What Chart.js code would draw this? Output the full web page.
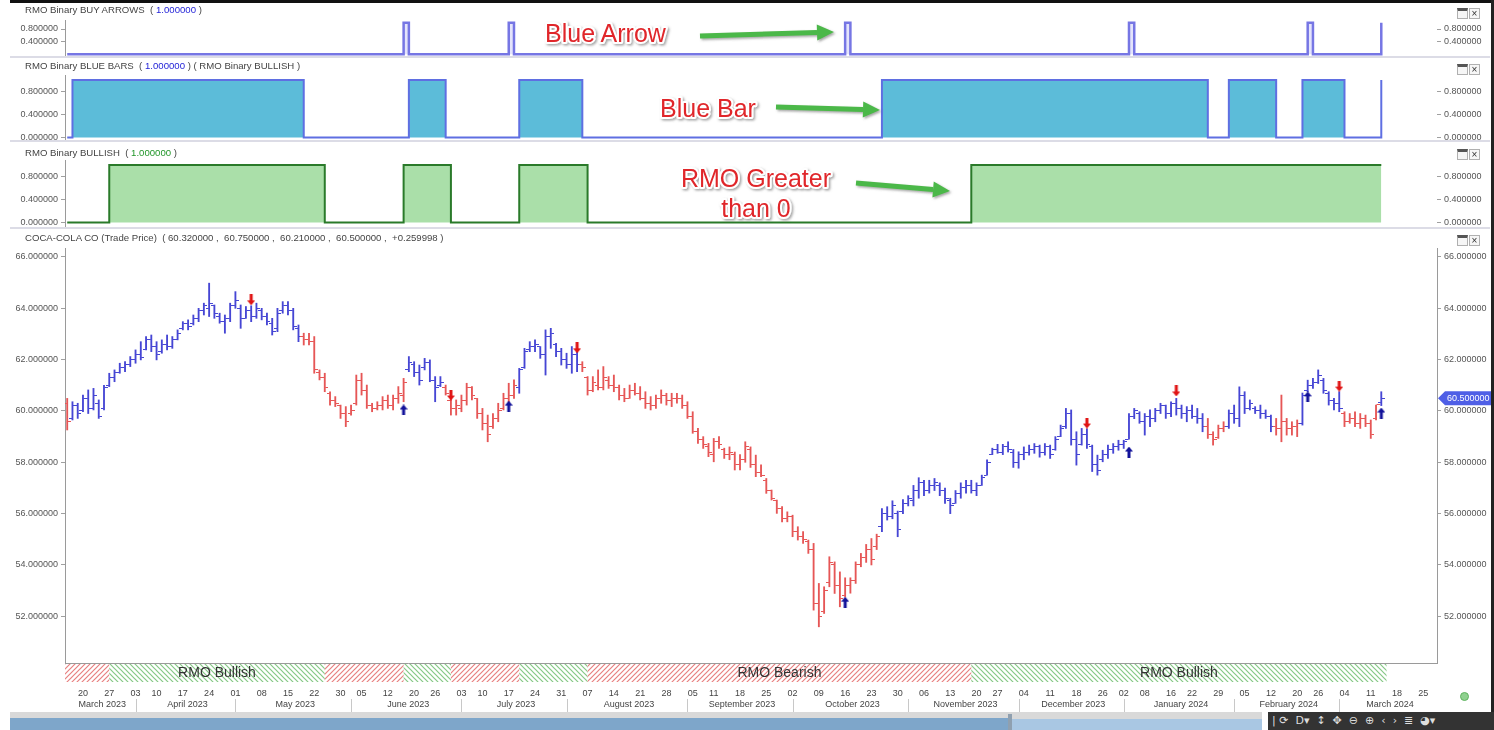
<!DOCTYPE html>
<html>
<head>
<meta charset="utf-8">
<script src="https://cdn.jsdelivr.net/npm/chart.js@4.4.1/dist/chart.umd.min.js"></script>
<style>
  body { margin:0; width:1494px; height:730px; overflow:hidden; background:#fff; position:relative;
         font-family:"Liberation Sans", Arial, sans-serif; }
  canvas { position:absolute; left:0; }
  .ttl { position:absolute; left:25px; font-size:9.6px; line-height:11px; color:#444; white-space:pre; }
  .ttl .b { color:#2424d8; }
  .ttl .g { color:#22962a; }
  .sep { position:absolute; left:10px; width:1480px; height:2px; background:#dcdce6; }
  .ico { position:absolute; left:1457px; height:11px; width:28px; }
  .ico span { display:inline-block; box-sizing:border-box; width:11px; height:11px; border:1px solid #b0b0b0;
              margin-right:1px; vertical-align:top; font-size:10px; line-height:9px; text-align:center; color:#333; background:#f6f6f6; }
  .ico .w { border-top:3px solid #555; }
  #nav { position:absolute; left:10px; top:712px; width:1252px; height:18px; background:#d9d9d9; overflow:hidden; }
  #nav .a { position:absolute; left:0; top:6px; width:1002px; height:12px; background:#7ea6ca; }
  #nav .s { position:absolute; left:1002px; top:7px; width:250px; height:11px; background:#a9c7e3; }
  #nav .h { position:absolute; left:998px; top:2px; width:4px; height:16px; background:#8fa0b0; }
  #tb { position:absolute; left:1268px; top:712px; width:226px; height:18px; background:#333; color:#ddd;
        font-family:"DejaVu Sans", sans-serif; font-size:11px; line-height:18px; white-space:pre; padding-left:4px; box-sizing:border-box; }
  #smile { position:absolute; left:1460px; top:692px; width:9px; height:9px; border-radius:50%; background:#8fd18f; border:1px solid #5fb35f; box-sizing:border-box; }
  #frameTop { position:absolute; left:10px; top:0; width:1484px; height:3px; background:#111; }
  #frameRight { position:absolute; left:1491px; top:0; width:3px; height:712px; background:#222; }
</style>
</head>
<body>
<canvas id="buyPanel" width="1494" height="58" style="top:0"></canvas>
<canvas id="bluePanel" width="1494" height="84" style="top:58px"></canvas>
<canvas id="bullPanel" width="1494" height="87" style="top:142px"></canvas>
<canvas id="price" width="1494" height="483" style="top:229px"></canvas>

<div id="frameTop"></div>
<div id="frameRight"></div>
<div class="sep" style="top:56px"></div>
<div class="sep" style="top:140px"></div>
<div class="sep" style="top:227px"></div>

<div class="ttl" style="top:4px">RMO Binary BUY ARROWS  ( <span class="b">1.000000</span> )</div>
<div class="ttl" style="top:60px">RMO Binary BLUE BARS  ( <span class="b">1.000000</span> ) ( RMO Binary BULLISH )</div>
<div class="ttl" style="top:147px">RMO Binary BULLISH  ( <span class="g">1.000000</span> )</div>
<div class="ttl" style="top:232px">COCA-COLA CO (Trade Price)  ( 60.320000 ,  60.750000 ,  60.210000 ,  60.500000 ,  +0.259998 )</div>

<div class="ico" style="top:8px"><span class="w"></span><span>×</span></div>
<div class="ico" style="top:64px"><span class="w"></span><span>×</span></div>
<div class="ico" style="top:149px"><span class="w"></span><span>×</span></div>
<div class="ico" style="top:235px"><span class="w"></span><span>×</span></div>

<div id="nav"><div class="a"></div><div class="s"></div><div class="h"></div></div>
<div id="tb">| ⟳  D▾  ↕  ✥  ⊖  ⊕  ‹  ›  ≣  ◕▾</div>
<div id="smile"></div>

<svg id="notes" width="1494" height="730" style="position:absolute;left:0;top:0">
  <defs>
    <filter id="sh" x="-10%" y="-30%" width="130%" height="170%">
      <feDropShadow dx="1.5" dy="1.5" stdDeviation="1" flood-color="#666" flood-opacity="0.6"/>
    </filter>
  </defs>
  <g font-family="Liberation Sans, Arial, sans-serif" font-size="25" fill="#e0262a" stroke="#ffffff"
     stroke-width="4" paint-order="stroke" stroke-linejoin="round" filter="url(#sh)">
    <text x="545" y="42">Blue Arrow</text>
    <text x="660" y="117">Blue Bar</text>
    <text x="756" y="187" text-anchor="middle">RMO Greater</text>
    <text x="756" y="217" text-anchor="middle">than 0</text>
  </g>
  <g id="greenArrows" filter="url(#sh)"></g>
</svg>

<script>
// trading calendar
const firstDay = '2023-03-15';
const axisEndDay = '2024-03-28';
const holidays = ['2023-04-07','2023-05-29','2023-06-19','2023-07-04','2023-09-04','2023-11-23',
                  '2023-12-25','2024-01-01','2024-01-15','2024-02-19'];
const monthNames = ['January','February','March','April','May','June','July','August',
                    'September','October','November','December'];

// COCA-COLA CO daily bars
const open = [
  60.30,59.70,60.20,60.00,60.50,60.10,60.30,60.10,61.00,61.30,
  61.50,61.70,61.80,62.00,62.20,62.40,62.80,62.50,62.30,62.60,
  62.50,62.80,63.20,63.40,63.40,63.60,63.90,64.00,64.10,63.70,
  63.50,63.60,64.10,64.00,63.60,63.90,63.70,63.90,63.70,63.40,
  63.20,63.90,64.10,63.90,63.20,62.90,62.80,62.70,61.50,61.30,
  60.70,60.40,60.20,59.90,59.90,60.30,61.20,60.80,60.20,60.10,
  60.20,60.40,60.20,60.50,60.60,61.60,61.80,61.50,61.70,61.90,
  61.20,61.00,60.90,60.40,60.10,60.10,60.40,60.90,60.50,59.90,
  59.50,59.40,59.70,60.10,60.50,60.60,60.90,61.70,62.40,62.50,
  62.50,62.20,62.90,62.60,62.30,62.00,61.80,62.20,61.80,61.30,
  60.80,61.00,60.90,61.20,61.00,60.90,60.60,60.50,60.80,60.70,
  60.50,60.30,60.20,60.50,60.60,60.40,60.50,60.50,60.20,59.80,
  59.20,58.90,58.60,58.30,58.80,58.50,58.30,58.30,57.90,58.10,
  58.50,57.90,57.60,57.30,56.90,56.50,56.20,55.80,55.90,55.30,
  55.10,54.90,54.60,52.50,52.20,53.30,54.00,53.20,52.80,53.20,
  53.40,54.00,54.30,54.60,54.70,55.50,56.00,55.90,56.00,56.10,
  56.40,56.50,56.90,57.20,56.90,57.10,57.10,56.90,56.50,56.40,
  56.80,57.00,57.10,56.90,57.10,57.50,58.30,58.50,58.40,58.60,
  58.40,58.00,58.30,58.40,58.50,58.60,58.40,58.60,58.50,59.00,
  59.40,59.90,58.90,58.70,59.10,58.60,57.90,58.10,58.30,58.50,
  58.60,58.70,58.90,59.80,59.90,59.60,59.80,59.70,60.00,60.20,
  59.90,60.30,60.10,59.90,60.00,59.80,59.70,59.40,59.10,58.95,
  59.30,59.40,59.90,59.70,60.60,60.10,60.10,60.00,59.90,59.80,
  59.40,59.30,59.60,59.30,59.40,59.50,60.80,61.00,61.10,61.20,
  60.70,60.40,60.30,59.90,59.60,59.70,59.50,59.70,59.50,59.70,
  60.32];
const high = [
  60.49,60.36,60.30,60.62,60.82,60.88,60.43,61.00,61.47,61.60,
  61.86,61.92,62.12,62.38,62.70,62.90,62.96,62.70,62.77,62.96,
  62.90,63.16,63.48,63.55,63.74,64.00,64.20,64.98,64.13,63.81,
  63.74,64.20,64.65,64.13,64.07,64.10,64.20,64.00,63.81,63.61,
  64.00,64.26,64.26,64.00,63.35,63.03,63.03,62.90,61.60,61.47,
  60.75,60.56,60.23,60.17,60.23,61.40,61.47,61.01,60.30,60.36,
  60.56,60.62,60.62,60.95,61.27,62.12,61.92,61.79,62.05,61.99,
  61.34,61.34,61.01,60.49,60.43,60.62,61.08,60.95,60.49,60.10,
  59.84,59.90,60.30,60.69,61.08,61.21,61.66,62.44,62.70,62.77,
  62.51,63.16,63.22,62.64,62.44,62.25,62.51,62.31,61.92,61.34,
  61.34,61.60,61.73,61.34,61.40,61.01,60.88,61.01,61.08,60.95,
  60.75,60.56,60.62,60.82,60.69,60.69,60.69,60.62,60.36,59.97,
  59.32,59.00,58.74,58.93,59.00,58.55,58.60,58.40,58.30,58.80,
  58.60,58.28,57.90,57.37,56.92,56.53,56.27,56.07,55.94,55.49,
  55.30,54.97,54.84,53.28,53.15,54.32,54.12,53.73,53.50,53.50,
  54.12,54.45,54.80,55.03,55.20,56.20,56.27,56.50,56.10,56.55,
  56.70,57.10,57.40,57.30,57.30,57.37,57.20,57.00,56.60,56.90,
  57.20,57.30,57.30,57.20,57.50,58.10,58.55,58.70,58.70,58.80,
  58.50,58.41,58.60,58.67,58.73,58.67,58.73,58.67,59.00,59.45,
  60.10,60.04,59.19,59.32,59.30,58.67,58.28,58.47,58.67,58.73,
  58.86,58.86,59.90,60.10,59.97,59.90,60.04,60.10,60.30,60.23,
  60.36,60.49,60.23,60.17,60.23,60.10,59.90,59.71,59.19,59.45,
  59.58,60.04,60.23,60.94,60.75,60.43,60.17,60.23,60.04,59.84,
  59.71,60.62,59.71,59.58,59.65,60.70,61.20,61.27,61.60,61.27,
  60.75,60.49,60.75,59.97,59.90,59.97,59.90,59.84,59.65,60.23,
  60.75];
const low = [
  59.26,59.65,59.71,59.97,59.90,60.04,59.71,60.04,60.95,61.14,
  61.47,61.53,61.73,61.86,61.99,62.38,62.31,61.99,62.25,62.38,
  62.44,62.77,63.16,63.16,63.35,63.48,63.74,63.68,63.61,63.42,
  63.03,63.48,64.00,63.22,63.61,63.48,63.61,63.55,63.35,62.96,
  63.09,63.81,63.74,63.16,62.70,62.57,62.57,61.47,61.21,60.75,
  60.23,60.17,59.71,59.39,59.84,60.23,60.62,60.10,59.97,60.04,
  60.04,60.10,60.04,60.30,60.36,61.53,61.34,61.01,61.60,61.14,
  60.36,60.95,60.62,59.84,59.84,59.97,60.23,60.43,59.71,59.26,
  58.80,59.32,59.58,60.04,60.30,60.49,60.69,61.66,62.31,62.31,
  62.05,61.40,62.44,62.12,61.79,61.66,61.47,61.53,61.53,60.62,
  60.75,60.82,60.82,60.88,60.75,60.43,60.36,60.49,60.62,60.43,
  60.10,60.04,60.10,60.30,60.23,60.17,60.30,60.10,59.71,59.13,
  58.74,58.54,58.22,58.02,58.54,58.15,58.10,57.70,57.70,58.00,
  57.80,57.44,57.44,56.79,56.53,56.01,55.68,55.68,55.10,54.97,
  54.84,54.45,52.24,51.59,52.11,53.15,52.89,52.37,52.75,52.90,
  53.28,53.93,54.10,54.00,54.60,55.30,55.75,55.80,55.10,56.00,
  56.30,56.30,56.60,56.70,56.80,56.90,56.70,56.40,56.00,56.40,
  56.60,56.80,56.80,56.70,57.10,57.50,58.30,58.35,58.30,58.40,
  57.80,57.77,58.10,58.28,58.35,58.20,58.28,58.15,58.47,59.00,
  59.32,58.67,57.89,58.67,58.54,57.64,57.50,58.02,58.15,58.35,
  58.47,58.54,58.90,59.70,59.52,59.06,59.39,59.58,59.90,59.71,
  59.78,59.84,59.71,59.58,59.71,59.52,59.19,58.93,58.67,58.93,
  59.19,59.32,59.52,59.39,59.90,60.04,59.90,59.71,59.71,59.19,
  59.06,58.80,59.06,59.06,59.00,59.45,60.75,60.88,61.07,60.69,
  60.23,60.04,59.97,59.39,59.52,59.39,59.32,59.39,58.93,59.65,
  60.21];
const close = [
  59.60,60.20,59.90,60.50,60.10,60.60,59.80,60.90,61.30,61.50,
  61.70,61.80,62.00,62.20,62.10,62.80,62.50,62.20,62.60,62.50,
  62.80,63.00,63.40,63.30,63.60,63.90,64.10,64.20,63.80,63.50,
  63.60,64.10,64.30,63.60,63.90,63.70,64.00,63.70,63.50,63.10,
  63.80,64.10,63.90,63.30,62.90,62.80,62.70,61.60,61.30,60.90,
  60.40,60.30,59.90,59.60,60.00,61.20,60.80,60.20,60.10,60.20,
  60.40,60.20,60.50,60.70,61.10,61.90,61.50,61.20,61.90,61.20,
  60.90,61.10,60.70,60.10,60.20,60.40,60.90,60.60,59.90,59.50,
  59.10,59.70,60.00,60.50,60.60,61.00,61.60,62.30,62.50,62.60,
  62.20,62.90,63.00,62.30,62.00,61.80,62.20,61.80,61.70,60.80,
  61.10,60.90,61.30,61.00,60.90,60.60,60.50,60.80,60.70,60.50,
  60.30,60.20,60.50,60.60,60.40,60.50,60.50,60.20,59.80,59.20,
  58.90,58.70,58.40,58.80,58.70,58.30,58.40,57.90,58.10,58.60,
  57.90,57.60,57.50,56.90,56.60,56.20,55.80,55.90,55.30,55.10,
  55.00,54.60,52.50,52.00,53.00,54.10,53.20,52.70,53.20,53.40,
  54.00,54.30,54.60,54.20,55.10,56.00,55.90,56.30,55.40,56.40,
  56.60,56.90,57.20,56.90,57.10,57.20,56.90,56.60,56.30,56.80,
  57.00,57.10,56.90,57.10,57.40,58.00,58.50,58.40,58.60,58.50,
  58.00,58.30,58.40,58.50,58.60,58.40,58.60,58.30,58.90,59.30,
  59.90,58.90,58.30,59.10,58.70,57.90,57.70,58.30,58.50,58.60,
  58.70,58.80,59.80,60.00,59.60,59.80,59.70,60.00,60.20,59.90,
  60.30,60.10,59.90,60.00,59.80,59.70,59.40,59.10,58.90,59.30,
  59.40,59.90,59.70,60.60,60.10,60.30,60.00,59.90,59.80,59.40,
  59.30,59.60,59.30,59.40,59.50,60.60,61.00,61.10,61.40,60.80,
  60.40,60.30,60.10,59.60,59.70,59.50,59.70,59.50,59.10,60.24,
  60.50];

// RMO binary indicators (bar index runs where the value is 1)
const blueRuns = [[1,44],[65,71],[86,97],[155,216],[221,229],[235,242],[250,250]];
const bullishRuns = [[8,48],[64,72],[86,98],[172,250]];
const buyIdx = [64, 84, 148, 202, 236, 250];
const buyPrice = [60.04, 60.19, 52.55, 58.40, 60.55, 59.92];
const sellIdx = [35, 73, 97, 194, 211, 242];
const sellPrice = [64.33, 60.62, 62.46, 59.53, 60.78, 60.97];

const priceTicks = [52, 54, 56, 58, 60, 62, 64, 66];
const X_MIN = -0.42, X_MAX = 260.6;

const FONT = '"Liberation Sans", Arial, sans-serif';
Chart.defaults.font.family = FONT;
Chart.defaults.plugins.legend.display = false;
Chart.defaults.plugins.tooltip.enabled = false;

const BLUE = '#4646d4', RED = '#e65656';

// calendar -> trading days
const tradingDays = [];
for (let t = Date.parse(firstDay); t <= Date.parse(axisEndDay); t += 864e5) {
  const d = new Date(t), wd = d.getUTCDay(), iso = d.toISOString().slice(0, 10);
  if (wd !== 0 && wd !== 6 && !holidays.includes(iso)) tradingDays.push(iso);
}
const weekNo = s => Math.floor((Date.parse(s) / 864e5 + 3) / 7);
const weekStarts = [];
tradingDays.forEach((d, i) => { if (i > 0 && weekNo(d) !== weekNo(tradingDays[i - 1])) weekStarts.push(i); });
const monthStarts = [];
tradingDays.forEach((d, i) => { if (i === 0 || d.slice(0, 7) !== tradingDays[i - 1].slice(0, 7)) monthStarts.push(i); });

const idx = close.map((_, i) => i);
const fromRuns = runs => idx.map(i => runs.some(([a, b]) => i >= a && i <= b) ? 1 : 0);
const blueBars = fromRuns(blueRuns);
const bullish = fromRuns(bullishRuns);
const buyArrows = idx.map(i => buyIdx.includes(i) ? 1 : 0);

// little marker images
function tickImg(color, side) {
  const c = document.createElement('canvas'); c.width = 7; c.height = 1;
  const g = c.getContext('2d'); g.fillStyle = color;
  g.fillRect(side < 0 ? 0 : 4, 0, 3, 1);
  return c;
}
function arrowImg(color, up) {
  const c = document.createElement('canvas'); c.width = 8; c.height = 11;
  const g = c.getContext('2d'); g.fillStyle = color; g.beginPath();
  if (up) { g.moveTo(4,0); g.lineTo(8,5); g.lineTo(5.5,5); g.lineTo(5.5,11); g.lineTo(2.5,11); g.lineTo(2.5,5); g.lineTo(0,5); }
  else { g.moveTo(4,11); g.lineTo(8,6); g.lineTo(5.5,6); g.lineTo(5.5,0); g.lineTo(2.5,0); g.lineTo(2.5,6); g.lineTo(0,6); }
  g.closePath(); g.fill();
  return c;
}
const openB = tickImg(BLUE, -1), openR = tickImg(RED, -1);
const closeB = tickImg(BLUE, 1), closeR = tickImg(RED, 1);
const buyImg = arrowImg('#12129a', true), sellImg = arrowImg('#e01414', false);

function hatch(color, forward) {
  const c = document.createElement('canvas'); c.width = 5; c.height = 5;
  const g = c.getContext('2d'); g.strokeStyle = color; g.lineWidth = 1.2; g.beginPath();
  if (forward) { g.moveTo(-1,6); g.lineTo(6,-1); g.moveTo(-1,1); g.lineTo(1,-1); g.moveTo(4,6); g.lineTo(6,4); }
  else { g.moveTo(-1,-1); g.lineTo(6,6); g.moveTo(-1,4); g.lineTo(1,6); g.moveTo(4,-1); g.lineTo(6,1); }
  g.stroke();
  return c;
}

function yAxis(pos, min, max, ticks, border, width) {
  return {
    position: pos, min, max,
    afterBuildTicks: s => { s.ticks = ticks.map(v => ({ value: v })); },
    afterFit: s => { s.width = width; s.paddingTop = 0; s.paddingBottom = 0; },
    grid: { drawOnChartArea: false, drawTicks: true, tickLength: 4, color: '#a0a0a0' },
    border: { display: border, color: '#9a9a9a' },
    ticks: { font: { size: 9 }, color: '#555', padding: 3, callback: v => Number(v).toFixed(6) }
  };
}
const hiddenX = { type: 'linear', min: X_MIN, max: X_MAX, display: false };

function panel(id, values, line, fill, lineW, yMin, yMax, ticks, pad) {
  new Chart(document.getElementById(id), {
    type: 'line',
    data: { datasets: [{
      data: values.map((v, i) => ({ x: i, y: v })),
      stepped: true, borderColor: line, borderWidth: lineW,
      backgroundColor: fill, fill: 'origin', pointRadius: 0
    }] },
    options: {
      responsive: false, animation: false, devicePixelRatio: 1,
      layout: { padding: { top: pad[0], bottom: pad[1], left: 0, right: 0 }, autoPadding: false },
      scales: {
        x: hiddenX,
        y: yAxis('left', yMin, yMax, ticks, true, 65),
        y2: yAxis('right', yMin, yMax, ticks, false, 57)
      }
    }
  });
}

panel('buyPanel', buyArrows, '#7676e4', 'rgba(210,210,248,0.6)', 2.5, -0.054, 1.085, [0.4, 0.8], [20, 2]);
panel('bluePanel', blueBars, '#5f6fe2', '#5cbcd9', 2, -0.043, 1.087, [0, 0.4, 0.8], [17, 2]);
panel('bullPanel', bullish, '#2a7a2a', '#aadfa9', 2, -0.061, 1.087, [0, 0.4, 0.8], [18, 3]);

const redHatch = hatch('#e88080', true);
const greenHatch = hatch('#86c986', false);

const bandPlugin = {
  id: 'rmoBand',
  afterDraw(chart) {
    const { ctx, chartArea: a, scales: { x } } = chart;
    const top = a.bottom + 1, h = 18, n = bullish.length;
    const redP = ctx.createPattern(redHatch, 'repeat');
    const greenP = ctx.createPattern(greenHatch, 'repeat');
    ctx.save();
    let start = 0;
    for (let i = 1; i <= n; i++) {
      if (i === n || bullish[i] !== bullish[start]) {
        const x0 = start === 0 ? a.left : x.getPixelForValue(start);
        const x1 = x.getPixelForValue(i);
        ctx.fillStyle = bullish[start] ? greenP : redP;
        ctx.fillRect(x0, top, x1 - x0, h);
        if (x1 - x0 > 150) {
          ctx.font = '14px ' + FONT; ctx.fillStyle = '#333';
          ctx.textAlign = 'center'; ctx.textBaseline = 'middle';
          ctx.fillText(bullish[start] ? 'RMO Bullish' : 'RMO Bearish', (x0 + x1) / 2, top + h / 2);
        }
        start = i;
      }
    }
    // month names under the day ticks
    ctx.font = '9px ' + FONT; ctx.fillStyle = '#444';
    ctx.textAlign = 'center'; ctx.textBaseline = 'middle';
    ctx.strokeStyle = '#c8c8c8'; ctx.lineWidth = 1;
    monthStarts.forEach((m, k) => {
      const x0 = m === 0 ? a.left : x.getPixelForValue(m);
      const x1 = k + 1 < monthStarts.length ? x.getPixelForValue(monthStarts[k + 1]) : a.right;
      if (m > 0) { ctx.beginPath(); ctx.moveTo(Math.round(x0) + 0.5, 470); ctx.lineTo(Math.round(x0) + 0.5, 483); ctx.stroke(); }
      const d = tradingDays[m];
      ctx.fillText(monthNames[+d.slice(5, 7) - 1] + ' ' + d.slice(0, 4), (x0 + x1) / 2 + 2, 476);
    });
    // last price tag on the right axis
    const last = close[close.length - 1];
    const y = chart.scales.y.getPixelForValue(last);
    ctx.fillStyle = '#4f5fe6';
    ctx.beginPath();
    ctx.moveTo(a.right + 1, y); ctx.lineTo(a.right + 8, y - 7); ctx.lineTo(1494, y - 7);
    ctx.lineTo(1494, y + 7); ctx.lineTo(a.right + 8, y + 7); ctx.closePath(); ctx.fill();
    ctx.fillStyle = '#fff'; ctx.textAlign = 'left';
    ctx.fillText(last.toFixed(6), a.right + 10, y + 0.5);
    ctx.restore();
  }
};

new Chart(document.getElementById('price'), {
  type: 'bar',
  data: {
    datasets: [
      { type: 'scatter', data: buyIdx.map((i, k) => ({ x: i, y: buyPrice[k] })), pointStyle: buyImg, pointRadius: 5, order: 0 },
      { type: 'scatter', data: sellIdx.map((i, k) => ({ x: i, y: sellPrice[k] })), pointStyle: sellImg, pointRadius: 5, order: 0 },
      { type: 'scatter', data: idx.map(i => ({ x: i, y: open[i] })), pointStyle: idx.map(i => blueBars[i] ? openB : openR), pointRadius: 3, order: 1 },
      { type: 'scatter', data: idx.map(i => ({ x: i, y: close[i] })), pointStyle: idx.map(i => blueBars[i] ? closeB : closeR), pointRadius: 3, order: 1 },
      { type: 'bar', data: idx.map(i => ({ x: i, y: [low[i], high[i]] })), backgroundColor: idx.map(i => blueBars[i] ? BLUE : RED),
        barThickness: 1.2, borderWidth: 0, order: 2 }
    ]
  },
  options: {
    responsive: false, animation: false, devicePixelRatio: 1,
    layout: { padding: { top: 19, bottom: 0, left: 0, right: 0 }, autoPadding: false },
    scales: {
      x: {
        type: 'linear', min: X_MIN, max: X_MAX, offset: false, position: 'bottom',
        afterBuildTicks: s => { s.ticks = weekStarts.map(v => ({ value: v })); },
        afterFit: s => { s.height = 49; },
        grid: { display: false, drawTicks: false },
        border: { display: true, color: '#9a9a9a' },
        ticks: { autoSkip: false, maxRotation: 0, minRotation: 0, padding: 25, font: { size: 9 }, color: '#444',
                 callback: v => tradingDays[v].slice(8, 10) }
      },
      y: yAxis('left', 50.18, 66.35, priceTicks, true, 65),
      y2: yAxis('right', 50.18, 66.35, priceTicks, true, 57)
    }
  },
  plugins: [bandPlugin]
});

// green call-out arrows
const svgNS = 'http://www.w3.org/2000/svg';
const arrowsG = document.getElementById('greenArrows');
[[700, 36, 834, 32], [776, 107, 880, 110], [856, 183, 950, 191]].forEach(([x1, y1, x2, y2]) => {
  const ang = Math.atan2(y2 - y1, x2 - x1), L = 17, W = 8;
  const bx = x2 - L * Math.cos(ang), by = y2 - L * Math.sin(ang);
  const ln = document.createElementNS(svgNS, 'line');
  ln.setAttribute('x1', x1); ln.setAttribute('y1', y1); ln.setAttribute('x2', bx); ln.setAttribute('y2', by);
  ln.setAttribute('stroke', '#4cb848'); ln.setAttribute('stroke-width', 5);
  arrowsG.appendChild(ln);
  const px = -Math.sin(ang) * W, py = Math.cos(ang) * W;
  const pg = document.createElementNS(svgNS, 'polygon');
  pg.setAttribute('points', `${x2},${y2} ${bx + px},${by + py} ${bx - px},${by - py}`);
  pg.setAttribute('fill', '#4cb848');
  arrowsG.appendChild(pg);
});
</script>
</body>
</html>
